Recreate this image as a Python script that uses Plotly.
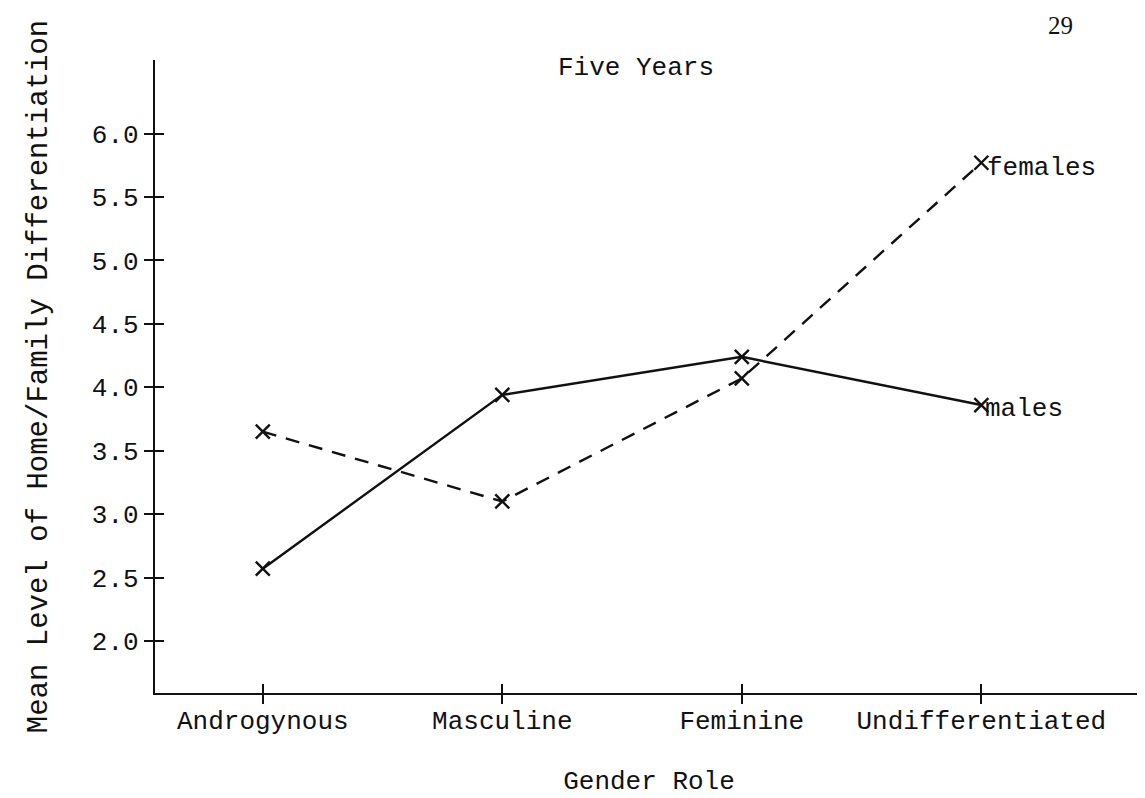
import plotly.graph_objects as go

categories = ["Androgynous", "Masculine", "Feminine", "Undifferentiated"]
males = [2.57, 3.94, 4.24, 3.86]
females = [3.65, 3.10, 4.07, 5.77]
y_ticks = [2.0, 2.5, 3.0, 3.5, 4.0, 4.5, 5.0, 5.5, 6.0]
y_tick_labels = ["2.0", "2.5", "3.0", "3.5", "4.0", "4.5", "5.0", "5.5", "6.0"]

MONO = "Liberation Mono, Courier New, monospace"
INK = "#111111"

ML, MR, MT, MB = 147, 10, 52, 113
W, H = 1145, 798

fig = go.Figure()

fig.add_trace(go.Scatter(
    x=categories, y=males, mode="lines+markers", name="males",
    line=dict(color=INK, width=2.4),
    marker=dict(symbol="x-thin", size=14, line=dict(color=INK, width=2.4), color=INK),
    xaxis="x", yaxis="y",
))
fig.add_trace(go.Scatter(
    x=categories, y=females, mode="lines+markers", name="females",
    line=dict(color=INK, width=2.4, dash="14px,10px"),
    marker=dict(symbol="x-thin", size=14, line=dict(color=INK, width=2.4), color=INK),
    xaxis="x2", yaxis="y2",
))

axis_font = dict(family=MONO, size=26, color=INK)

fig.update_layout(
    width=W, height=H,
    margin=dict(l=ML, r=MR, t=MT, b=MB),
    paper_bgcolor="white", plot_bgcolor="white",
    showlegend=False,
    xaxis=dict(
        type="category", range=[-0.45, 3.675],
        automargin=False,
        showline=True, linecolor=INK, linewidth=2.4,
        ticks="outside", ticklen=9, tickwidth=2, tickcolor=INK,
        ticklabelstandoff=-6,
        showgrid=False, zeroline=False,
        tickfont=axis_font,
        title=dict(text="Gender Role", font=axis_font, standoff=34),
    ),
    yaxis=dict(
        range=[1.59, 6.58],
        automargin=False,
        tickvals=y_ticks, ticktext=y_tick_labels,
        showline=True, linecolor=INK, linewidth=2.4,
        ticks="outside", ticklen=9, tickwidth=2, tickcolor=INK,
        showgrid=False, zeroline=False,
        tickfont=axis_font,
        title=dict(text="Mean Level of Home/Family Differentiation",
                   font=dict(family=MONO, size=29, color=INK), standoff=36),
    ),
    xaxis2=dict(
        type="category", overlaying="x", matches="x", anchor="y2", side="bottom",
        automargin=False,
        ticks="inside", ticklen=9, tickwidth=2, tickcolor=INK,
        showticklabels=False, showline=False, showgrid=False, zeroline=False,
    ),
    yaxis2=dict(
        overlaying="y", matches="y", anchor="x2", side="left",
        automargin=False,
        tickvals=y_ticks,
        ticks="inside", ticklen=9, tickwidth=2, tickcolor=INK,
        showticklabels=False, showline=False, showgrid=False, zeroline=False,
    ),
)

fig.add_annotation(
    x=categories[-1], y=females[-1], xref="x", yref="y",
    text="females", showarrow=False, xanchor="left", yanchor="middle",
    xshift=4, yshift=-5, font=dict(family=MONO, size=26, color=INK),
)
fig.add_annotation(
    x=categories[-1], y=males[-1], xref="x", yref="y",
    text="males", showarrow=False, xanchor="left", yanchor="middle",
    xshift=2, yshift=-4, font=dict(family=MONO, size=26, color=INK),
)

plot_w = W - ML - MR
plot_h = H - MT - MB
fig.add_annotation(
    x=(628 - ML) / plot_w, y=1 - (60 - MT) / plot_h, xref="paper", yref="paper",
    text="Five Years", showarrow=False, xanchor="center", yanchor="middle",
    font=dict(family=MONO, size=26, color=INK),
)
fig.add_annotation(
    x=(1052 - ML) / plot_w, y=1 - (18 - MT) / plot_h, xref="paper", yref="paper",
    text="29", showarrow=False, xanchor="center", yanchor="middle",
    font=dict(family="Liberation Serif, serif", size=25, color=INK),
)

fig.write_html("out.html")
